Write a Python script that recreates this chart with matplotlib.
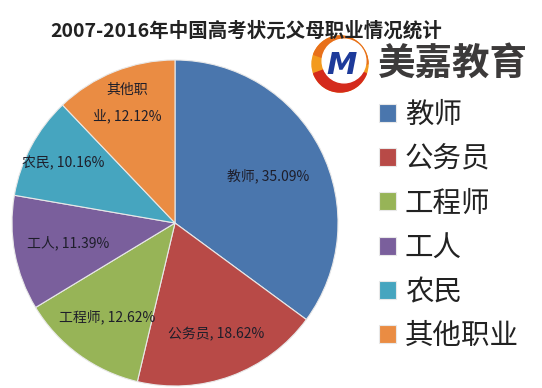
import matplotlib
matplotlib.use("Agg")
import matplotlib.pyplot as plt
import numpy as np
from matplotlib.patches import Circle, Wedge

plt.rcParams['font.family'] = ['Noto Sans CJK SC', 'DejaVu Sans']

title = "2007-2016年中国高考状元父母职业情况统计"
categories = ["教师", "公务员", "工程师", "工人", "农民", "其他职业"]
label_names = ["教师", "公务员", "工程师", "工人", "农民", "其他职\n业"]
values = [35.09, 18.62, 12.62, 11.39, 10.16, 12.12]
colors = ["#4a76ad", "#b84a47", "#97b457", "#7a5f9c", "#46a5bf", "#ea8c43"]
label_radius = [0.64, 0.73, 0.71, 0.67, 0.78, 0.79]

W, H = 542, 388
fig = plt.figure(figsize=(W / 100, H / 100), dpi=100)
fig.patch.set_facecolor("white")

# pie axes: center (175,223) px, radius 163 px
cx, cy, r = 175, 223, 163
ax = fig.add_axes([(cx - r) / W, (H - cy - r) / H, 2 * r / W, 2 * r / H])
wedges, _ = ax.pie(values, colors=colors, startangle=90, counterclock=False,
                   radius=1, wedgeprops=dict(edgecolor="#e8e8e8", linewidth=0.8))
ax.set_xlim(-1, 1)
ax.set_ylim(-1, 1)
ax.set_aspect("equal")
ax.axis("off")

for w, name, v, rr in zip(wedges, label_names, values, label_radius):
    ang = np.deg2rad((w.theta1 + w.theta2) / 2)
    ax.text(rr * np.cos(ang), rr * np.sin(ang), f"{name}, {v:.2f}%",
            ha="center", va="center", fontsize=10, color="#1e1e2a",
            linespacing=2.0)

# title
fig.text(246 / W, 1 - 31 / H, title, ha="center", va="center",
         fontsize=14, fontweight="bold", color="#222222")

# legend
leg = fig.legend(wedges, categories, loc="upper left",
                 bbox_to_anchor=(379 / W, 1 - 100 / H), frameon=False,
                 fontsize=20.5, handlelength=0.6, handleheight=0.6,
                 handletextpad=0.3, labelspacing=0.5, borderaxespad=0,
                 borderpad=0)
for t in leg.get_texts():
    t.set_color("#222222")

# logo
lax = fig.add_axes([0, 0, 1, 1], facecolor="none")
lax.set_xlim(0, W)
lax.set_ylim(H, 0)
lax.axis("off")
lx, ly, lr = 340, 64, 28
lax.add_patch(Wedge((lx, ly), lr, 0, 360, width=lr, color="#f39a1e", zorder=1))
lax.add_patch(Wedge((lx, ly), lr, 200, 360, width=lr, color="#e8701a", zorder=1))
lax.add_patch(Wedge((lx, ly), lr, 20, 160, width=lr, color="#d42a1c", zorder=1))
lax.add_patch(Circle((lx + 4, ly - 3), lr * 0.78, color="white", zorder=2))
lax.text(lx + 2, ly + 1, "M", ha="center", va="center", fontsize=22,
         fontweight="bold", style="italic", color="#1d3a9a", zorder=3,
         family="DejaVu Sans")
lax.text(453, 63, "美嘉教育", ha="center", va="center", fontsize=27,
         fontweight="bold", color="#3c3a3a", zorder=3)

fig.savefig("out.png", dpi=100, facecolor="white")
